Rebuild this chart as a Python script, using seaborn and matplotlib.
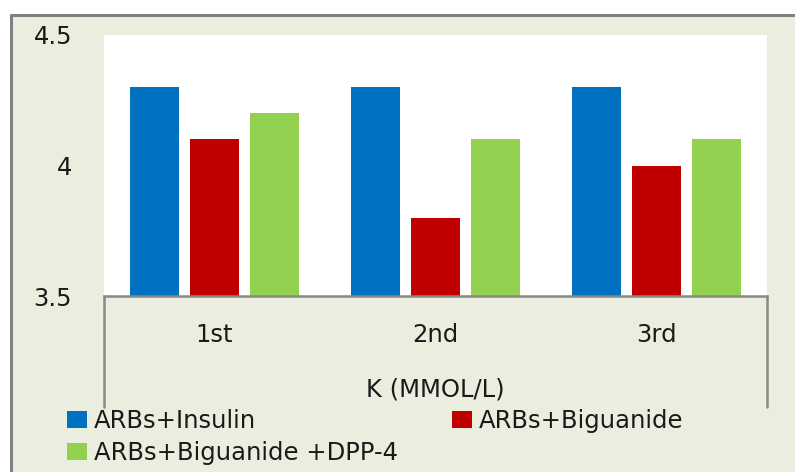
import matplotlib
matplotlib.use("Agg")
import matplotlib.pyplot as plt
from matplotlib.patches import Patch
from matplotlib.lines import Line2D
import seaborn as sns
import pandas as pd

# data
rounds = ['1st', '2nd', '3rd']
series = ['ARBs+Insulin', 'ARBs+Biguanide', 'ARBs+Biguanide +DPP-4']
insulin = [4.3, 4.3, 4.3]
biguanide = [4.1, 3.8, 4.0]
biguanide_dpp4 = [4.2, 4.1, 4.1]
colors = ['#0070C0', '#C00000', '#92D050']
y_ticks = [3.5, 4, 4.5]
y_labels = ['3.5', '4', '4.5']

df = pd.DataFrame({
    'round': rounds * 3,
    'group': [series[0]] * 3 + [series[1]] * 3 + [series[2]] * 3,
    'value': insulin + biguanide + biguanide_dpp4,
})

sns.set_style('white')
plt.rcParams['font.family'] = ['DejaVu Sans']
FS = 17.5
TXT = '#1a1a1a'

bg = '#EBEEDE'
fig = plt.figure(figsize=(7.95, 4.72), dpi=100)
fig.patch.set_facecolor('white')

# chart area background + outer border (cropped on right/bottom)
fig.add_artist(plt.Rectangle((11 / 795, 0), 1, 1 - 15 / 472, transform=fig.transFigure,
                             facecolor=bg, edgecolor='none', zorder=0))
fig.add_artist(Line2D([11 / 795, 11 / 795], [0, 1 - 15 / 472], transform=fig.transFigure,
                      color='#808080', lw=2.2))
fig.add_artist(Line2D([11 / 795, 1], [1 - 15 / 472, 1 - 15 / 472], transform=fig.transFigure,
                      color='#808080', lw=2.2))

ax = fig.add_axes([104 / 795, 1 - 296 / 472, (767 - 104) / 795, (296 - 35) / 472])
ax.set_facecolor('white')

sns.barplot(data=df, x='round', y='value', hue='group', hue_order=series,
            palette=colors, saturation=1, width=0.815, gap=0.17, ax=ax, legend=False,
            edgecolor='none', linewidth=0, bottom=0)

ax.set_ylim(3.5, 4.5)
ax.set_xlim(-0.5, 2.5)
ax.set_yticks(y_ticks)
ax.set_yticklabels(y_labels, fontsize=FS, color=TXT)
ax.tick_params(axis='y', length=0, pad=23)
ax.set_xticks([])
ax.set_xlabel('')
ax.set_ylabel('')
for s in ['top', 'left', 'right']:
    ax.spines[s].set_visible(False)
ax.spines['bottom'].set_color('#888888')
ax.spines['bottom'].set_linewidth(1.8)

# category box below the plot
drop = -(407 - 296) / (296 - 35)
for xa in [0, 1]:
    ax.plot([xa, xa], [0, drop], transform=ax.transAxes, color='#888888',
            lw=1.8, clip_on=False)

for i, r in enumerate(rounds):
    ax.text(i, -(335 - 296) / (296 - 35), r, transform=ax.get_xaxis_transform(),
            ha='center', va='center', fontsize=FS, color=TXT)
ax.text(0.5, -(389 - 296) / (296 - 35), 'K (MMOL/L)', transform=ax.transAxes,
        ha='center', va='center', fontsize=FS, color=TXT)

handles = [Patch(facecolor=colors[0], edgecolor='none', label=series[0]),
           Patch(facecolor=colors[2], edgecolor='none', label=series[2]),
           Patch(facecolor=colors[1], edgecolor='none', label=series[1])]
fig.legend(handles=handles, ncol=2, loc='upper left',
           bbox_to_anchor=(67 / 795, 1 - 409 / 472), frameon=False,
           fontsize=FS, handlelength=0.82, handleheight=0.65, handletextpad=0.3,
           columnspacing=2.2, labelspacing=0.33, borderaxespad=0, borderpad=0,
           labelcolor=TXT)

fig.savefig('out.png', dpi=100, facecolor=fig.get_facecolor())
